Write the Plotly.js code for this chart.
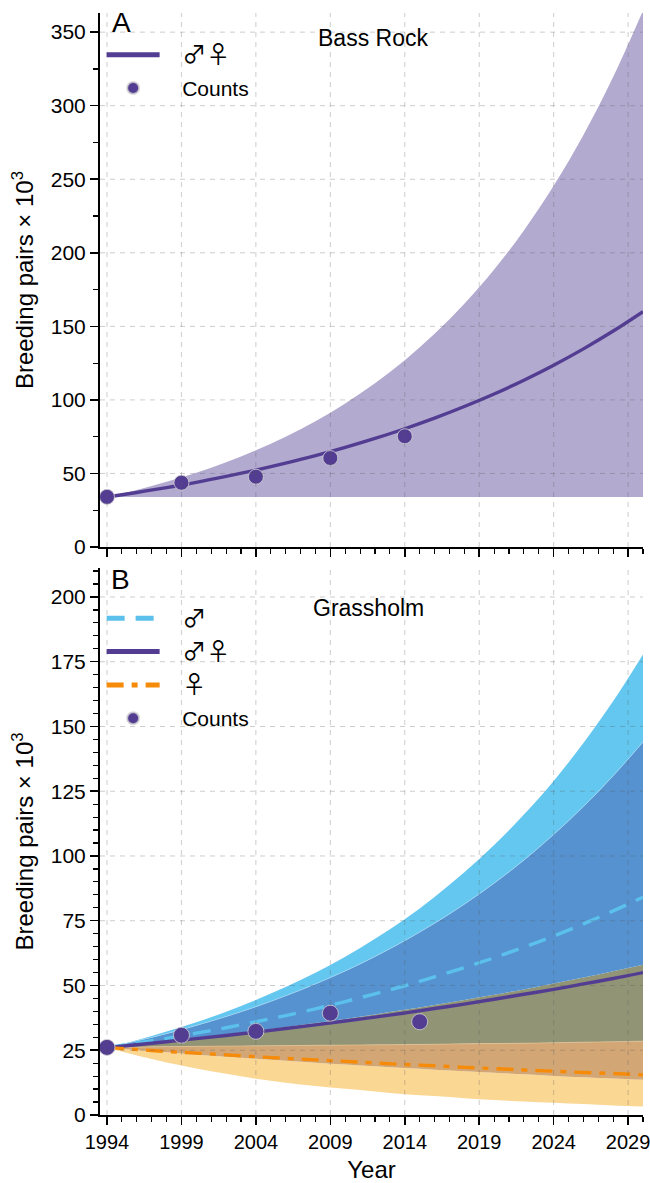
<!DOCTYPE html>
<html>
<head>
<meta charset="utf-8">
<script src="https://cdn.plot.ly/plotly-3.0.1.min.js"></script>
<style>html,body{margin:0;padding:0;background:#fff}#chart{width:650px;height:1183px}</style>
</head>
<body>
<div id="chart"></div>
<script>
// ---------- data ----------
const years = [1994,1996,1998,2000,2002,2004,2006,2008,2010,2012,2014,2016,2018,2020,2022,2024,2026,2028,2030];

// Panel A: Bass Rock
const brMean  = [34.0,37.1,40.4,44.0,48.0,52.3,57.0,62.1,67.7,73.8,80.4,87.6,95.5,104.0,113.4,123.6,134.7,146.8,160.0];
const brUpper = [34.0,38.8,44.3,50.5,57.6,65.7,75.0,85.5,97.6,111.3,127.0,144.9,165.3,188.6,215.2,245.5,280.1,319.6,364.6];
const brLower = [34.0,34.0,34.0,34.0,34.0,34.0,34.0,34.0,34.0,34.0,34.0,34.0,34.0,34.0,34.0,34.0,34.0,34.0,34.0];
const brCountYears = [1994,1999,2004,2009,2014];
const brCounts = [34.1,43.7,47.8,60.5,75.3];

// Panel B: Grassholm
const ghMaleMean   = [26.0,27.8,29.6,31.6,33.7,36.0,38.4,41.0,43.8,46.8,49.9,53.3,56.9,60.7,64.8,69.1,73.8,78.8,84.1];
const ghBothMean   = [26.0,27.1,28.3,29.5,30.7,32.0,33.4,34.8,36.3,37.8,39.4,41.1,42.8,44.7,46.6,48.5,50.6,52.7,55.0];
const ghFemaleMean = [26.0,25.3,24.5,23.9,23.2,22.5,21.9,21.3,20.7,20.1,19.5,19.0,18.4,17.9,17.4,16.9,16.4,16.0,15.5];
const ghMaleUpper   = [26.0,28.9,32.2,35.8,39.9,44.4,49.4,54.9,61.1,68.0,75.6,84.2,93.7,104.2,116.0,129.0,143.6,159.8,177.8];
const ghBothUpper   = [26.0,28.6,31.4,34.6,38.0,41.8,46.0,50.6,55.6,61.2,67.3,74.0,81.4,89.5,98.4,108.3,119.1,131.0,144.0];
const ghMaleLower   = [26.0,27.2,28.4,29.7,31.1,32.5,34.0,35.5,37.1,38.8,40.6,42.5,44.4,46.4,48.5,50.8,53.1,55.5,58.0];
const ghFemaleUpper = [26.0,26.2,26.4,26.5,26.6,26.7,26.8,26.9,27.0,27.1,27.2,27.3,27.5,27.6,27.7,27.9,28.1,28.3,28.5];
const ghBothLower   = [26.0,25.1,24.2,23.3,22.5,21.7,20.9,20.2,19.5,18.8,18.1,17.5,16.9,16.3,15.7,15.1,14.6,14.1,13.6];
const ghFemaleLower = [26.0,23.0,20.3,18.0,15.9,14.0,12.5,11.2,10.1,9.1,8.0,7.3,6.5,5.8,5.2,4.7,4.2,3.7,3.3];
const ghCountYears = [1994,1999,2004,2009,2015];
const ghCounts = [26.1,30.8,32.3,39.3,36.0];

// tick values
const xTicks = [1994,1999,2004,2009,2014,2019,2024,2029];
const yTicksA = [0,50,100,150,200,250,300,350];
const yTicksB = [0,25,50,75,100,125,150,175,200];

const labels = {male: '♂', both: '♂♀', female: '♀', counts: 'Counts'};

// ---------- style ----------
const FONT = 'Liberation Sans, Arial, Helvetica, sans-serif';
const PURPLE = '#533d92', BLUE_LINE = '#5bc0eb', ORANGE = '#f68b09';
const dotLine = {color: 'rgba(210,210,210,0.8)', width: 1};
const PAD = '\u00a0\u00a0\u00a0';
function sym(s) { return PAD + '<span style="font-family:Noto Sans CJK JP;font-size:24px">' + s + '</span>'; }

function band(x, y, color, xa, ya, fill, edge) {
  return {x: x, y: y, xaxis: xa, yaxis: ya, type: 'scatter', mode: 'lines',
    line: edge ? {width: 1, color: edge, shape: 'spline'} : {width: 0, color: color, shape: 'spline'},
    fill: fill, fillcolor: color, showlegend: false, hoverinfo: 'skip'};
}

const data = [
  // Panel A band
  band(years, brLower, 'rgba(0,0,0,0)', 'x', 'y', 'none'),
  band(years, brUpper, '#b2aacf', 'x', 'y', 'tonexty'),
  {x: years, y: brMean, xaxis: 'x', yaxis: 'y', type: 'scatter', mode: 'lines', name: sym(labels.both),
   line: {color: PURPLE, width: 3.4, shape: 'spline'}, legend: 'legend', legendgroup: 'a1'},
  {x: brCountYears, y: brCounts, xaxis: 'x', yaxis: 'y', type: 'scatter', mode: 'markers', name: PAD + labels.counts,
   marker: {color: PURPLE, size: 15, line: dotLine}, legend: 'legend', legendgroup: 'a2'},

  // Panel B bands (stacked regions)
  band(years, ghFemaleLower, 'rgba(0,0,0,0)', 'x2', 'y2', 'none'),
  band(years, ghBothLower, '#fbd794', 'x2', 'y2', 'tonexty'),
  band(years, ghFemaleUpper, '#d2a775', 'x2', 'y2', 'tonexty', 'rgba(240,200,150,0.6)'),
  band(years, ghMaleLower, '#919576', 'x2', 'y2', 'tonexty'),
  band(years, ghBothUpper, '#5592cf', 'x2', 'y2', 'tonexty', 'rgba(170,215,245,0.7)'),
  band(years, ghMaleUpper, '#64c7f0', 'x2', 'y2', 'tonexty'),

  {x: years, y: ghMaleMean, xaxis: 'x2', yaxis: 'y2', type: 'scatter', mode: 'lines', name: sym(labels.male),
   line: {color: BLUE_LINE, width: 3.4, dash: '18px,11px', shape: 'spline'}, legend: 'legend2', legendgroup: 'b1'},
  {x: years, y: ghBothMean, xaxis: 'x2', yaxis: 'y2', type: 'scatter', mode: 'lines', name: sym(labels.both),
   line: {color: PURPLE, width: 3.4, shape: 'spline'}, legend: 'legend2', legendgroup: 'b2'},
  {x: years, y: ghFemaleMean, xaxis: 'x2', yaxis: 'y2', type: 'scatter', mode: 'lines', name: sym(labels.female),
   line: {color: ORANGE, width: 3.4, dash: '17px,8px,6px,8px', shape: 'spline'}, legend: 'legend2', legendgroup: 'b3'},
  {x: ghCountYears, y: ghCounts, xaxis: 'x2', yaxis: 'y2', type: 'scatter', mode: 'markers', name: PAD + labels.counts,
   marker: {color: PURPLE, size: 16, line: dotLine}, legend: 'legend2', legendgroup: 'b4'}
];

function xAxis(anchor, showLabels) {
  return {
    anchor: anchor, domain: [0, 1], range: [1993.53, 2030.0],
    tickmode: 'array', tickvals: xTicks, ticks: 'outside', ticklen: 8, tickwidth: 1.5, tickcolor: '#000',
    showline: true, linecolor: '#000', linewidth: 2, zeroline: false, showgrid: false,
    showticklabels: showLabels, ticklabeloverflow: 'allow',
    tickfont: {family: FONT, size: 20, color: '#000'},
    minor: {dtick: 1, tick0: 1994, ticks: 'outside', ticklen: 5, tickwidth: 1.2, tickcolor: '#000', showgrid: false}
  };
}
function yAxis(anchor, domain, range, tickvals, minor) {
  return {
    anchor: anchor, domain: domain, range: range, tickmode: 'array', tickvals: tickvals,
    ticks: 'outside', ticklen: 8, tickwidth: 1.5, tickcolor: '#000',
    showline: true, linecolor: '#000', linewidth: 2, zeroline: false, showgrid: false,
    tickfont: {family: FONT, size: 21, color: '#000'},
    title: {text: 'Breeding pairs × 10<sup>3</sup>', font: {family: FONT, size: 24, color: '#000'}, standoff: 10},
    minor: {dtick: minor, tick0: 0, ticks: 'outside', ticklen: 5, tickwidth: 1.2, tickcolor: '#000', showgrid: false}
  };
}

const xb = xAxis('y2', true);
xb.title = {text: 'Year', font: {family: FONT, size: 24, color: '#000'}, standoff: 9};

const legendBase = {xanchor: 'left', yanchor: 'top', bgcolor: 'rgba(0,0,0,0)',
  font: {family: FONT, size: 21, color: '#000'}, itemwidth: 53, tracegroupgap: 3, itemsizing: 'constant'};

// dashed grid drawn above the filled bands
const gridLine = {color: 'rgba(90,90,90,0.3)', width: 1, dash: '5px,5px'};
const shapes = [];
[['x', 'y'], ['x2', 'y2']].forEach(function (ax) {
  xTicks.forEach(function (v) {
    shapes.push({type: 'line', layer: 'above', xref: ax[0], yref: ax[1] + ' domain', x0: v, x1: v, y0: 0, y1: 1, line: gridLine});
  });
});
yTicksA.slice(1).forEach(function (v) {
  shapes.push({type: 'line', layer: 'above', xref: 'x domain', yref: 'y', x0: 0, x1: 1, y0: v, y1: v, line: gridLine});
});
yTicksB.slice(1).forEach(function (v) {
  shapes.push({type: 'line', layer: 'above', xref: 'x2 domain', yref: 'y2', x0: 0, x1: 1, y0: v, y1: v, line: gridLine});
});

const layout = {
  width: 650, height: 1183,
  margin: {l: 100, r: 7, t: 13, b: 68},
  paper_bgcolor: '#fff', plot_bgcolor: '#fff',
  font: {family: FONT, color: '#000'},
  xaxis: xAxis('y', false),
  yaxis: yAxis('x', [0.5154, 1], [0, 363], yTicksA, 25),
  xaxis2: xb,
  yaxis2: yAxis('x2', [0, 0.4964], [0, 211.2], yTicksB, 5),
  legend: Object.assign({x: 0.003, y: 0.9805}, legendBase),
  legend2: Object.assign({x: 0.003, y: 0.469}, legendBase),
  shapes: shapes,
  annotations: [
    {text: 'A', x: 0.04, y: 0.9915, xref: 'paper', yref: 'paper', xanchor: 'center', yanchor: 'middle', showarrow: false, font: {family: FONT, size: 28}},
    {text: 'Bass Rock', x: 0.503, y: 0.9775, xref: 'paper', yref: 'paper', xanchor: 'center', yanchor: 'middle', showarrow: false, font: {family: FONT, size: 23}},
    {text: 'B', x: 0.037, y: 0.4855, xref: 'paper', yref: 'paper', xanchor: 'center', yanchor: 'middle', showarrow: false, font: {family: FONT, size: 28}},
    {text: 'Grassholm', x: 0.495, y: 0.460, xref: 'paper', yref: 'paper', xanchor: 'center', yanchor: 'middle', showarrow: false, font: {family: FONT, size: 23}}
  ]
};

Plotly.newPlot('chart', data, layout, {displayModeBar: false, staticPlot: true});
</script>
</body>
</html>
